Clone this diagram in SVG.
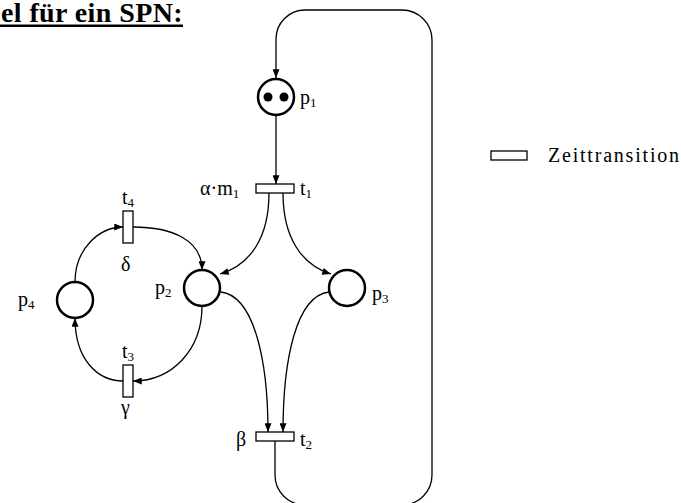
<svg xmlns="http://www.w3.org/2000/svg" width="681" height="503" viewBox="0 0 681 503">
<style>
.lbl{font-family:"Liberation Serif","Times New Roman",serif;font-size:20px;fill:#000}
.sub{font-size:13px}
.place{fill:#fff;stroke:#000;stroke-width:2.5}
.trans{fill:#fff;stroke:#000;stroke-width:1.3}
.arc{fill:none;stroke:#000;stroke-width:1.3}
</style>
<defs>
<marker id="ah" viewBox="0 0 10 8" refX="10" refY="4" markerWidth="10" markerHeight="7" markerUnits="userSpaceOnUse" orient="auto">
<path d="M0,0 L10,4 L0,8 z" fill="#000"/>
</marker>
</defs>
<rect width="681" height="503" fill="#fff"/>
<g id="title">
<text x="183" y="22" text-anchor="end" font-family="'Liberation Serif',serif" font-weight="bold" font-size="28" letter-spacing="0.4">el für ein SPN:</text>
<rect x="0" y="24.5" width="183" height="2.5" fill="#000"/>
</g>
<g id="connectors">
<path class="arc" d="M275,441 L275,475 A30,30 0 0 0 305,505 L402,505 A30,30 0 0 0 432,475 L432,40 A30,30 0 0 0 402,10 L305,10 A29,29 0 0 0 276,39 L276,78" marker-end="url(#ah)"/>
<path class="arc" d="M276,115 L276,184" marker-end="url(#ah)"/>
<path class="arc" d="M269,193 C269,238 250,265 220,274" marker-end="url(#ah)"/>
<path class="arc" d="M283,193 C283,238 302,265 331,274" marker-end="url(#ah)"/>
<path class="arc" d="M221,292 C254,296 268,360 268,432" marker-end="url(#ah)"/>
<path class="arc" d="M329,292 C296,296 283,360 283,432" marker-end="url(#ah)"/>
<path class="arc" d="M75,282 C75,248 100,227 123,227" marker-end="url(#ah)"/>
<path class="arc" d="M133,227 C172,227 202,240 202,270" marker-end="url(#ah)"/>
<path class="arc" d="M202,306 C202,350 172,381 133,381" marker-end="url(#ah)"/>
<path class="arc" d="M123,381 C98,381 75,360 75,318" marker-end="url(#ah)"/>
</g>
<g id="p1">
<circle class="place" cx="276" cy="97" r="18"/>
<circle cx="268" cy="97" r="4.5"/>
<circle cx="284" cy="97" r="4.5"/>
<text class="lbl" x="300" y="104">p<tspan class="sub" dy="3">1</tspan></text>
</g>
<g id="t1">
<rect class="trans" x="256" y="184" width="38" height="9"/>
<text class="lbl" x="200" y="195">α·m<tspan class="sub" dy="3">1</tspan></text>
<text class="lbl" x="300" y="195">t<tspan class="sub" dy="3">1</tspan></text>
</g>
<g id="p2">
<circle class="place" cx="202" cy="288" r="18"/>
<text class="lbl" x="155" y="294">p<tspan class="sub" dy="3">2</tspan></text>
</g>
<g id="p3">
<circle class="place" cx="347" cy="288" r="18"/>
<text class="lbl" x="372" y="300">p<tspan class="sub" dy="3">3</tspan></text>
</g>
<g id="p4">
<circle class="place" cx="75" cy="300" r="18"/>
<text class="lbl" x="18" y="306">p<tspan class="sub" dy="3">4</tspan></text>
</g>
<g id="t4">
<rect class="trans" x="123" y="211" width="10" height="32"/>
<text class="lbl" x="122" y="204">t<tspan class="sub" dy="3">4</tspan></text>
<text class="lbl" x="121" y="271">δ</text>
</g>
<g id="t3">
<rect class="trans" x="123" y="365" width="10" height="32"/>
<text class="lbl" x="122" y="358">t<tspan class="sub" dy="3">3</tspan></text>
<text class="lbl" x="121" y="414">γ</text>
</g>
<g id="t2">
<rect class="trans" x="256" y="432" width="38" height="9"/>
<text class="lbl" x="236" y="446">β</text>
<text class="lbl" x="300" y="446">t<tspan class="sub" dy="3">2</tspan></text>
</g>
<g id="legend">
<rect class="trans" x="491" y="151" width="36" height="9"/>
<text class="lbl" x="548" y="162" font-size="21" textLength="131" lengthAdjust="spacing">Zeittransition</text>
</g>
</svg>
